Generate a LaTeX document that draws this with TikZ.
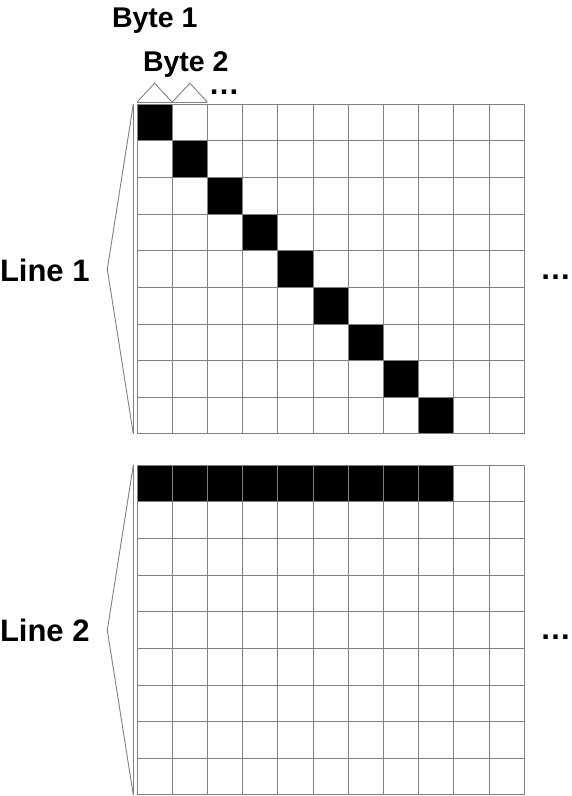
\documentclass[tikz,border=0pt]{standalone}
\usepackage{fontspec}
\setmainfont{Liberation Sans}
\begin{document}
\begin{tikzpicture}[x=1pt,y=-1pt,
  gridline/.style={draw=black!50,line width=1pt},
  braceline/.style={draw=black!50,line width=0.9pt,line join=miter},
  bytelabel/.style={font=\bfseries\fontsize{28.5}{28.5}\selectfont,inner sep=0pt,outer sep=0pt,anchor=base west},
  linelabel/.style={font=\bfseries\fontsize{31}{31}\selectfont,inner sep=0pt,outer sep=0pt,anchor=base west},
  dots/.style={font=\bfseries\fontsize{31}{31}\selectfont,inner sep=0pt,outer sep=0pt,anchor=base,text height=5pt,text depth=0pt},
  cell/.style={fill=black}]
\useasboundingbox (0,0) rectangle (572,796);
\def\gx{137}
\def\cw{35.21}
\def\rh{36.63}
% ---------- grid 1 ----------
\def\gy{104.3}
\foreach \i in {0,...,8}{
  \fill[cell] ({\gx+\i*\cw},{\gy+\i*\rh}) rectangle ++(\cw,\rh);
}
\foreach \c in {0,...,11}{
  \draw[gridline] ({\gx+\c*\cw},\gy) -- ++(0,{9*\rh});
}
\foreach \r in {0,...,9}{
  \draw[gridline] (\gx,{\gy+\r*\rh}) -- ++({11*\cw},0);
}
% ---------- grid 2 ----------
\def\gyb{465.3}
\foreach \i in {0,...,8}{
  \fill[cell] ({\gx+\i*\cw},\gyb) rectangle ++(\cw,\rh);
}
\foreach \c in {0,...,11}{
  \draw[gridline] ({\gx+\c*\cw},\gyb) -- ++(0,{9*\rh});
}
\foreach \r in {0,...,9}{
  \draw[gridline] (\gx,{\gyb+\r*\rh}) -- ++({11*\cw},0);
}
% ---------- left braces ----------
\coordinate (b1t) at (133.3,104.3);
\coordinate (b1b) at (133.3,434);
\coordinate (b1m) at (107.3,269.2);
\draw[braceline] (b1t) -- (b1b);
\draw[braceline] (b1t) -- (b1m) -- (b1b);
\coordinate (b2t) at (133.3,465.3);
\coordinate (b2b) at (133.3,795);
\coordinate (b2m) at (107.3,630.2);
\draw[braceline] (b2t) -- (b2b);
\draw[braceline] (b2t) -- (b2m) -- (b2b);
% ---------- top byte brackets ----------
\coordinate (t0) at (137,102.2);
\coordinate (t1) at (172.2,102.2);
\coordinate (t2) at (207.4,102.2);
\coordinate (a1) at (154.6,83.2);
\coordinate (a2) at (189.8,83.2);
\draw[braceline] (t0) -- (t2);
\draw[braceline] (t0) -- (a1) -- (t1) -- (a2) -- (t2);
% ---------- labels ----------
\node[bytelabel] (byte1) at (112,27.7) {Byte 1};
\node[bytelabel] (byte2) at (143,71.7) {Byte 2};
\node[dots] (topdots) at (224.2,94.5) {…};
\node[linelabel] (line1) at (0,281.7) {Line 1};
\node[linelabel] (line2) at (0,641.7) {Line 2};
\node[dots] (rdots1) at (555.5,279.5) {…};
\node[dots] (rdots2) at (555.5,639.5) {…};
\end{tikzpicture}
\end{document}
